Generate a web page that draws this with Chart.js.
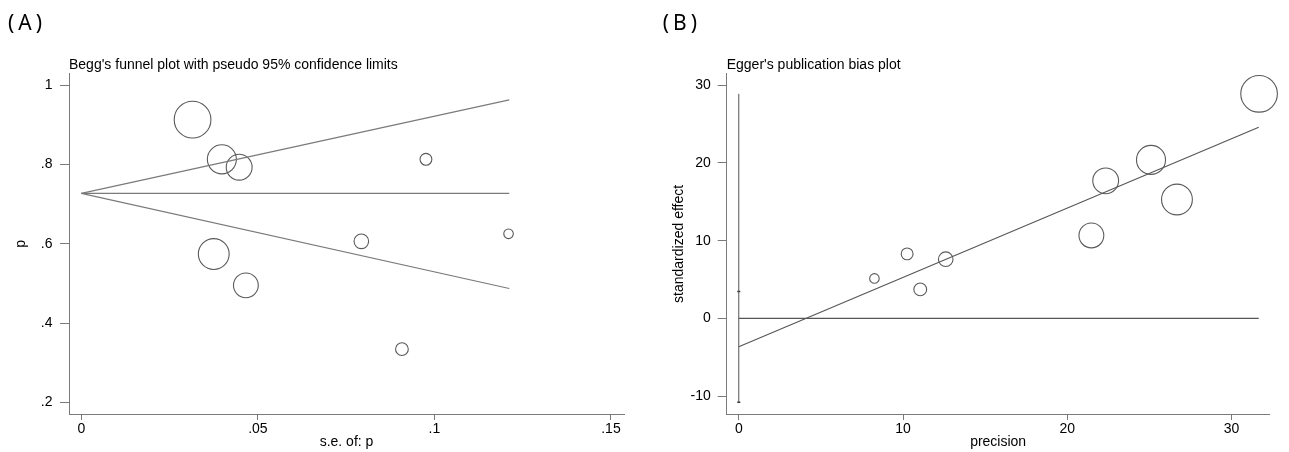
<!DOCTYPE html>
<html><head><meta charset="utf-8">
<script src="https://cdn.jsdelivr.net/npm/chart.js@4.4.1/dist/chart.umd.min.js"></script>
<style>
html,body{margin:0;padding:0;background:#fff;}
#wrap{position:relative;width:1289px;height:452px;overflow:hidden;background:#fff;}
canvas{position:absolute;top:0;}
#cA{left:0}
#cB{left:644px}
</style></head><body>
<div id="wrap"><canvas id="cA" width="644" height="452"></canvas><canvas id="cB" width="645" height="452"></canvas></div>
<script>
// ---------- Panel A: Begg's funnel plot ----------
const beggSe = [0.0315, 0.0398, 0.0447, 0.0976, 0.0375, 0.0466, 0.0793, 0.1210, 0.0908];
const beggP  = [0.913, 0.813, 0.793, 0.813, 0.574, 0.495, 0.606, 0.625, 0.334];
const funnelSe   = [0, 0.1212];
const pooledLine = [0.727, 0.727];
const upperLimit = [0.727, 0.963];
const lowerLimit = [0.727, 0.487];
const beggXTicks  = [0, 0.05, 0.1, 0.15];
const beggXLabels = ['0', '.05', '.1', '.15'];
const beggYTicks  = [0.2, 0.4, 0.6, 0.8, 1];
const beggYLabels = ['.2', '.4', '.6', '.8', '1'];

// ---------- Panel B: Egger's publication bias plot ----------
const eggerPrecision = [31.68, 25.1, 22.34, 26.68, 21.47, 12.6, 10.25, 11.05, 8.26];
const eggerEffect    = [28.9, 20.4, 17.7, 15.3, 10.67, 7.62, 8.3, 3.73, 5.14];
const fitPrecision = [0, 31.66];
const fitEffect    = [-3.65, 24.6];
const zeroLine     = [0, 0];
const interceptCI  = [-10.8, 3.46];
const spikeRange   = [-10.8, 28.9];
const eggerXTicks  = [0, 10, 20, 30];
const eggerXLabels = ['0', '10', '20', '30'];
const eggerYTicks  = [-10, 0, 10, 20, 30];
const eggerYLabels = ['-10', '0', '10', '20', '30'];

const FONT = "'Liberation Sans', Arial, sans-serif";
const AX = '#7a7a7a';
const CIRC = '#5a5a5a';
const SIZE_K = 0.578; // marker radius per unit of precision (1/se)

const panelLabel = {
  id: 'panelLabel',
  afterDraw(chart, args, o) {
    const c = chart.ctx;
    c.save();
    c.font = o.font;
    c.fillStyle = '#000';
    c.textBaseline = 'alphabetic';
    c.textAlign = 'left';
    try { c.letterSpacing = o.spacing; } catch (e) {}
    c.fillText(o.text, o.x, o.y);
    c.restore();
  }
};

function axis(min, max, ticks, labels, o) {
  return {
    type: 'linear', min, max,
    afterBuildTicks: s => { s.ticks = ticks.map(v => ({ value: v })); },
    afterFit: s => { if (o.width) s.width = o.width; if (o.height) s.height = o.height; },
    ticks: {
      callback: (v, i) => labels[i], color: '#000',
      font: { family: FONT, size: 14 }, padding: o.pad,
      maxRotation: 0, minRotation: 0, autoSkip: false
    },
    grid: { drawOnChartArea: false, drawTicks: true, tickLength: o.tl, tickColor: AX, tickWidth: 1 },
    border: { display: true, color: AX, width: 1 },
    title: { display: true, text: o.title, color: '#000', font: { family: FONT, size: 14 }, padding: o.tpad }
  };
}

function lineDs(xs, ys, color, width) {
  return {
    type: 'scatter', showLine: true, data: xs.map((x, i) => ({ x, y: ys[i] })),
    borderColor: color, borderWidth: width, pointRadius: 0, pointHoverRadius: 0, fill: false, tension: 0
  };
}

function baseOptions(title, pad, xs, ys, label) {
  return {
    responsive: false, animation: false, devicePixelRatio: 1, events: [],
    layout: { padding: pad },
    plugins: {
      legend: { display: false }, tooltip: { enabled: false },
      title: { display: true, text: title, align: 'start', fullSize: false, color: '#000',
               font: { family: FONT, size: 14, weight: 'normal' }, padding: { top: 0, bottom: 0 } },
      panelLabel: label
    },
    scales: { x: xs, y: ys }
  };
}

const LABEL_FONT = "21px 'Noto Sans', 'DejaVu Sans', sans-serif";

// Panel A
new Chart(document.getElementById('cA'), {
  type: 'scatter',
  data: { datasets: [
    lineDs(funnelSe, pooledLine, '#7a7a7a', 1.2),
    lineDs(funnelSe, upperLimit, '#7a7a7a', 1.1),
    lineDs(funnelSe, lowerLimit, '#7a7a7a', 1.1),
    {
      type: 'scatter', data: beggSe.map((x, i) => ({ x, y: beggP[i] })), clip: false,
      pointRadius: ctx => SIZE_K / beggSe[ctx.dataIndex],
      pointBackgroundColor: 'rgba(0,0,0,0)', pointBorderColor: CIRC, pointBorderWidth: 1.1
    }
  ]},
  options: baseOptions("Begg's funnel plot with pseudo 95% confidence limits",
    { top: 57, left: 0, right: 20, bottom: 0 },
    axis(-0.0035, 0.1537, beggXTicks, beggXLabels, { height: 38, tl: 6, pad: 1, title: 's.e. of: p', tpad: { top: 0, bottom: 1.2 } }),
    axis(0.1705, 1.0287, beggYTicks, beggYLabels, { width: 69, tl: 9, pad: 7.5, title: 'p', tpad: { top: 12.3, bottom: 0 } }),
    { text: '(A)', x: 8, y: 30, font: LABEL_FONT, spacing: '4px' })
  ,
  plugins: [panelLabel]
});

// Panel B
new Chart(document.getElementById('cB'), {
  type: 'scatter',
  data: { datasets: [
    lineDs([0, 0], spikeRange, '#555', 1),
    {
      type: 'scatter', data: interceptCI.map(y => ({ x: 0, y })), pointStyle: 'line',
      pointRadius: 1.5, pointBorderColor: '#333', pointBorderWidth: 1.5, pointHoverRadius: 0
    },
    lineDs(fitPrecision, zeroLine, '#555', 1.1),
    lineDs(fitPrecision, fitEffect, '#555', 1.1),
    {
      type: 'scatter', data: eggerPrecision.map((x, i) => ({ x, y: eggerEffect[i] })), clip: false,
      pointRadius: ctx => SIZE_K * eggerPrecision[ctx.dataIndex],
      pointBackgroundColor: 'rgba(0,0,0,0)', pointBorderColor: CIRC, pointBorderWidth: 1.1
    }
  ]},
  options: baseOptions("Egger's publication bias plot",
    { top: 57, left: 0, right: 9, bottom: 0 },
    axis(-0.735, 32.32, eggerXTicks, eggerXLabels, { height: 38, tl: 6, pad: 1, title: 'precision', tpad: { top: 0, bottom: 1.2 } }),
    axis(-12.31, 31.48, eggerYTicks, eggerYLabels, { width: 82.7, tl: 9, pad: 7, title: 'standardized effect', tpad: { top: 26.7, bottom: 0 } }),
    { text: '(B)', x: 18.7, y: 30, font: LABEL_FONT, spacing: '4px' })
  ,
  plugins: [panelLabel]
});
</script>
</body></html>
